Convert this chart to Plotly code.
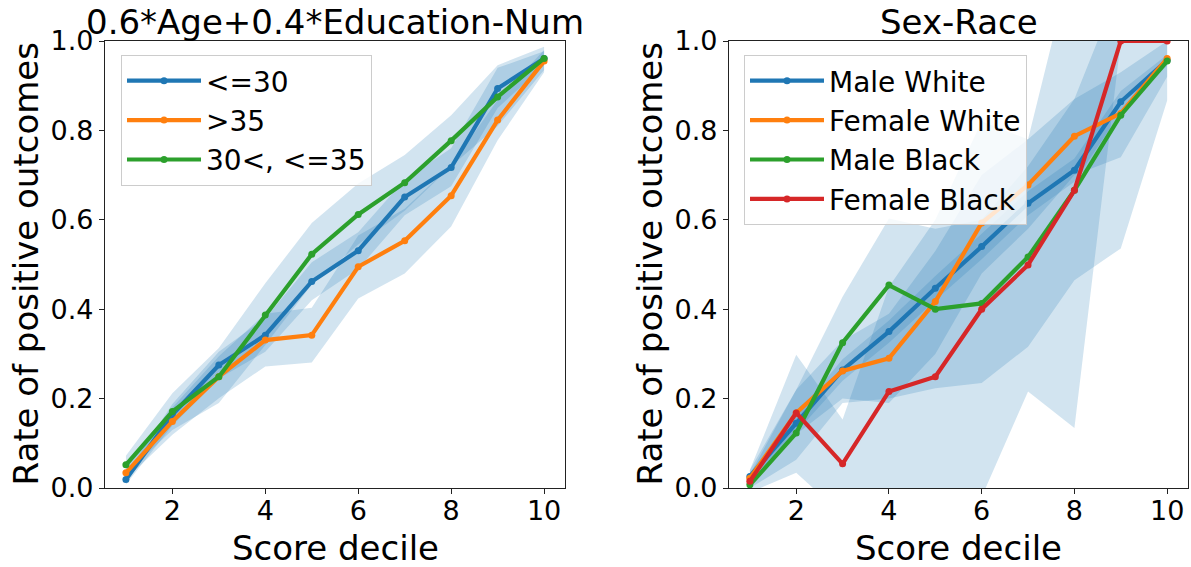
import plotly.graph_objects as go

deciles = [1, 2, 3, 4, 5, 6, 7, 8, 9, 10]

# Left panel: 0.6*Age+0.4*Education-Num
left_names = ["<=30", ">35", "30<, <=35"]
le30 = [0.019, 0.164, 0.275, 0.342, 0.462, 0.531, 0.651, 0.717, 0.894, 0.961]
le30_lo = [0.008, 0.140, 0.245, 0.305, 0.420, 0.490, 0.610, 0.675, 0.850, 0.945]
le30_hi = [0.030, 0.188, 0.305, 0.380, 0.505, 0.572, 0.690, 0.760, 0.940, 0.977]
gt35 = [0.034, 0.149, 0.249, 0.331, 0.342, 0.495, 0.553, 0.654, 0.823, 0.955]
gt35_lo = [0.020, 0.119, 0.201, 0.272, 0.281, 0.424, 0.480, 0.585, 0.778, 0.930]
gt35_hi = [0.048, 0.180, 0.295, 0.390, 0.403, 0.565, 0.625, 0.722, 0.868, 0.980]
mid = [0.052, 0.171, 0.249, 0.387, 0.523, 0.612, 0.683, 0.777, 0.875, 0.961]
mid_lo = [0.032, 0.130, 0.190, 0.320, 0.455, 0.545, 0.620, 0.720, 0.810, 0.935]
mid_hi = [0.072, 0.212, 0.313, 0.458, 0.593, 0.681, 0.745, 0.834, 0.946, 0.987]

# Right panel: Sex-Race
right_names = ["Male White", "Female White", "Male Black", "Female Black"]
mw = [0.026, 0.145, 0.264, 0.350, 0.447, 0.540, 0.637, 0.711, 0.864, 0.957]
mw_lo = [0.018, 0.125, 0.240, 0.325, 0.420, 0.512, 0.610, 0.685, 0.840, 0.945]
mw_hi = [0.034, 0.165, 0.288, 0.375, 0.474, 0.568, 0.664, 0.737, 0.888, 0.969]
fw = [0.022, 0.168, 0.262, 0.290, 0.417, 0.593, 0.678, 0.787, 0.838, 0.961]
fw_lo = [0.005, 0.120, 0.200, 0.190, 0.300, 0.480, 0.580, 0.700, 0.740, 0.920]
fw_hi = [0.040, 0.220, 0.330, 0.390, 0.530, 0.700, 0.780, 0.870, 0.930, 1.000]
mb = [0.007, 0.123, 0.325, 0.454, 0.400, 0.413, 0.517, 0.666, 0.834, 0.955]
mb_lo = [0.000, 0.063, 0.190, 0.200, 0.223, 0.235, 0.316, 0.465, 0.536, 0.867]
mb_hi = [0.030, 0.220, 0.428, 0.603, 0.580, 0.600, 0.720, 0.870, 1.130, 1.040]
fb = [0.015, 0.168, 0.054, 0.216, 0.249, 0.400, 0.499, 0.666, 1.000, 1.000]
fb_lo = [-0.010, 0.034, -0.060, -0.050, -0.100, -0.020, 0.216, 0.134, 1.000, 1.000]
fb_hi = [0.040, 0.298, 0.153, 0.450, 0.600, 0.820, 0.780, 1.200, 1.000, 1.000]

colors = ["#1f77b4", "#ff7f0e", "#2ca02c", "#d62728"]
band_color = "rgba(31,119,180,0.2)"
FONT = "DejaVu Sans"

W, H = 1191, 567
def px(x):
    return x / W
def py(y):
    return 1 - y / H

fig = go.Figure()

panels = [
    ("x", "y", "legend", left_names, [le30, gt35, mid], [le30_lo, gt35_lo, mid_lo], [le30_hi, gt35_hi, mid_hi]),
    ("x2", "y2", "legend2", right_names, [mw, fw, mb, fb], [mw_lo, fw_lo, mb_lo, fb_lo], [mw_hi, fw_hi, mb_hi, fb_hi]),
]

for xa, ya, leg, names, vals, los, his in panels:
    for lo, hi in zip(los, his):
        fig.add_trace(go.Scatter(
            x=deciles + deciles[::-1], y=hi + lo[::-1], fill="toself",
            fillcolor=band_color, line=dict(width=0), mode="lines",
            showlegend=False, hoverinfo="skip", xaxis=xa, yaxis=ya))
    for i, (name, v) in enumerate(zip(names, vals)):
        fig.add_trace(go.Scatter(
            x=deciles, y=v, name=name, mode="lines+markers",
            line=dict(color=colors[i], width=4.2),
            marker=dict(color=colors[i], size=7),
            xaxis=xa, yaxis=ya, legend=leg, cliponaxis=True))

axis_common = dict(
    automargin=False, showgrid=False, zeroline=False, showline=True, linecolor="#222",
    linewidth=1.1, mirror=True, ticks="outside", ticklen=5, tickwidth=1.1,
    tickcolor="#222", tickfont=dict(family=FONT, size=27, color="black"))

xa = dict(axis_common, range=[0.55, 10.45], tickvals=[2, 4, 6, 8, 10],
          ticklabelstandoff=-6)
ya = dict(axis_common, range=[0, 1], tickvals=[0, 0.2, 0.4, 0.6, 0.8, 1.0],
          tickformat=".1f")

top, bottom = py(41), py(488)
legend_common = dict(yanchor="top", xanchor="left",
                     bgcolor="rgba(255,255,255,0.8)", bordercolor="#cccccc", borderwidth=1,
                     font=dict(family=FONT, size=28, color="black"), itemwidth=74)
fig.update_layout(
    template="none",
    width=W, height=H, autosize=False,
    margin=dict(l=0, r=0, t=0, b=0, pad=0),
    paper_bgcolor="white", plot_bgcolor="white",
    xaxis=dict(xa, domain=[px(105), px(565)], anchor="y"),
    yaxis=dict(ya, domain=[bottom, top], anchor="x"),
    xaxis2=dict(xa, domain=[px(729), px(1188)], anchor="y2"),
    yaxis2=dict(ya, domain=[bottom, top], anchor="x2"),
    legend=dict(legend_common, x=px(121), y=py(55)),
    legend2=dict(legend_common, x=px(744), y=py(55)),
)

ann_font = dict(family=FONT, size=34, color="black")
annotations = [
    dict(text="0.6*Age+0.4*Education-Num", x=px(335), y=py(22)),
    dict(text="Sex-Race", x=px(958.5), y=py(22)),
    dict(text="Score decile", x=px(335), y=py(548)),
    dict(text="Score decile", x=px(958.5), y=py(548)),
    dict(text="Rate of positive outcomes", x=px(26), y=py(264.5), textangle=-90),
    dict(text="Rate of positive outcomes", x=px(650), y=py(264.5), textangle=-90),
]
for a in annotations:
    fig.add_annotation(xref="paper", yref="paper", showarrow=False,
                       xanchor="center", yanchor="middle", font=ann_font, **a)

fig.write_html("out.html", config={"displayModeBar": False},
               post_script="document.body.style.margin='0';document.body.style.overflow='hidden';")
